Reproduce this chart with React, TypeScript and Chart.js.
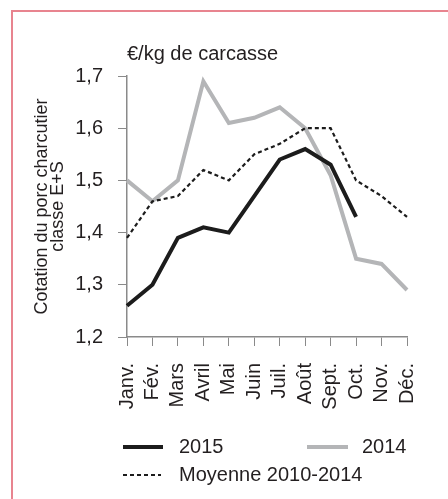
import React, { useEffect, useRef } from "react";
import { Chart, registerables } from "chart.js";

Chart.register(...registerables);

const months = ["Janv.", "Fév.", "Mars", "Avril", "Mai", "Juin", "Juil.", "Août", "Sept.", "Oct.", "Nov.", "Déc."];
const values2015: (number | null)[] = [1.26, 1.30, 1.39, 1.41, 1.40, 1.47, 1.54, 1.56, 1.53, 1.43, null, null];
const values2014 = [1.50, 1.46, 1.50, 1.69, 1.61, 1.62, 1.64, 1.60, 1.51, 1.35, 1.34, 1.29];
const valuesMoyenne = [1.39, 1.46, 1.47, 1.52, 1.50, 1.55, 1.57, 1.60, 1.60, 1.50, 1.47, 1.43];
const yTitle = ["Cotation du porc charcutier", "classe E+S"];
const chartTitle = "€/kg de carcasse";
const legendLabels = ["2015", "2014", "Moyenne 2010-2014"];

const FONT = "'Liberation Sans', Arial, sans-serif";
const TEXT = "#231f20";
const AXIS = "#8a8a8a";
const BLACK = "#1c1c1c";
const GRAY = "#b4b5b7";

const legendPlugin = {
  id: "customLegend",
  afterDraw(chart: any) {
    const { ctx, chartArea } = chart;
    const left = chartArea.left - 4;
    const y1 = chartArea.bottom + 110;
    const y2 = chartArea.bottom + 138;
    ctx.save();
    ctx.lineCap = "butt";
    // 2015
    ctx.strokeStyle = BLACK;
    ctx.lineWidth = 4;
    ctx.beginPath();
    ctx.moveTo(left, y1);
    ctx.lineTo(left + 40, y1);
    ctx.stroke();
    // 2014
    ctx.strokeStyle = GRAY;
    ctx.beginPath();
    ctx.moveTo(left + 184, y1);
    ctx.lineTo(left + 225, y1);
    ctx.stroke();
    // moyenne
    ctx.strokeStyle = BLACK;
    ctx.lineWidth = 2.2;
    ctx.setLineDash([4, 3]);
    ctx.beginPath();
    ctx.moveTo(left, y2);
    ctx.lineTo(left + 38, y2);
    ctx.stroke();
    ctx.setLineDash([]);
    ctx.fillStyle = TEXT;
    ctx.font = `20px ${FONT}`;
    ctx.textBaseline = "middle";
    ctx.textAlign = "left";
    ctx.fillText(legendLabels[0], left + 56, y1);
    ctx.fillText(legendLabels[1], left + 239, y1);
    ctx.fillText(legendLabels[2], left + 56, y2);
    ctx.restore();
  },
};

function LineChart() {
  const ref = useRef<HTMLCanvasElement | null>(null);
  useEffect(() => {
    if (!ref.current) return;
    const chart = new Chart(ref.current, {
      type: "line",
      data: {
        labels: months,
        datasets: [
          {
            label: legendLabels[0],
            data: values2015,
            borderColor: BLACK,
            borderWidth: 4,
            pointRadius: 0,
            tension: 0,
            order: 0,
          },
          {
            label: legendLabels[1],
            data: values2014,
            borderColor: GRAY,
            borderWidth: 4,
            pointRadius: 0,
            tension: 0,
            order: 2,
          },
          {
            label: legendLabels[2],
            data: valuesMoyenne,
            borderColor: BLACK,
            borderWidth: 2.2,
            borderDash: [4, 3],
            pointRadius: 0,
            tension: 0,
            order: 1,
          },
        ],
      },
      options: {
        animation: false,
        responsive: false,
        maintainAspectRatio: false,
        layout: { padding: { left: 0, right: 30, top: 0, bottom: 62 } },
        plugins: {
          legend: { display: false },
          tooltip: { enabled: false },
          title: {
            display: true,
            text: chartTitle,
            align: "start",
            fullSize: false,
            color: TEXT,
            font: { family: FONT, size: 20, weight: "normal" },
            padding: { top: 42, bottom: 10 },
          },
        },
        scales: {
          x: {
            offset: false,
            grid: { display: true, drawOnChartArea: false, drawTicks: true, tickLength: 9, color: AXIS },
            border: { display: true, color: AXIS, width: 1.5 },
            ticks: {
              color: TEXT,
              font: { family: FONT, size: 20 },
              maxRotation: 90,
              minRotation: 90,
              autoSkip: false,
              padding: 17,
            },
            afterFit(scale: any) {
              scale.height = 100;
            },
          },
          y: {
            min: 1.2,
            max: 1.7,
            grid: { display: true, drawOnChartArea: false, drawTicks: true, tickLength: 9, color: AXIS },
            border: { display: true, color: AXIS, width: 1.5 },
            ticks: {
              stepSize: 0.1,
              color: TEXT,
              font: { family: FONT, size: 20 },
              padding: 15,
              callback: (v: any) => Number(v).toFixed(1).replace(".", ","),
            },
            title: {
              display: true,
              text: yTitle,
              color: TEXT,
              font: { family: FONT, size: 18, lineHeight: 0.9 },
              padding: { top: 34, bottom: 0 },
            },
            afterFit(scale: any) {
              scale.width = 127;
            },
          },
        },
      },
      plugins: [legendPlugin],
    });
    return () => chart.destroy();
  }, []);
  return <canvas ref={ref} width={448} height={499} style={{ position: "absolute", left: 0, top: 0, width: 448, height: 499 }} />;
}

export default function App() {
  return (
    <div style={{ position: "fixed", left: 0, top: 0, width: 448, height: 499, overflow: "hidden", background: "#fff" }}>
      <div
        style={{
          position: "absolute",
          left: 11,
          top: 10,
          width: 600,
          height: 600,
          border: "2px solid #e8848f",
          boxSizing: "border-box",
        }}
      />
      <LineChart />
    </div>
  );
}
